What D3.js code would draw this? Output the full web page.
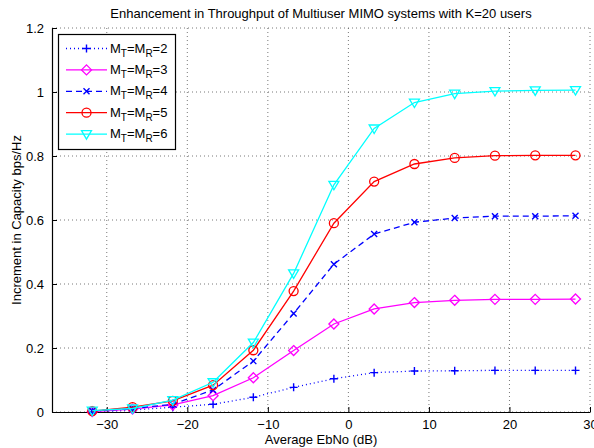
<!DOCTYPE html>
<html>
<head>
<meta charset="utf-8">
<script src="https://cdn.jsdelivr.net/npm/d3@7"></script>
<style>
  body { margin: 0; background: #fff; }
  svg text { font-family: "Liberation Sans", Arial, sans-serif; fill: #000; }
</style>
</head>
<body>
<div id="chart"></div>
<script>
// data
var ebno = [-31.8, -26.8, -21.8, -16.8, -11.8, -6.8, -1.8, 3.2, 8.2, 13.2, 18.2, 23.2, 28.2];
var m2 = [0, 0.006, 0.015, 0.024, 0.046, 0.077, 0.104, 0.123, 0.128, 0.129, 0.130, 0.130, 0.130];
var m3 = [0.001, 0.009, 0.022, 0.051, 0.107, 0.192, 0.275, 0.322, 0.342, 0.349, 0.352, 0.352, 0.353];
var m4 = [0.003, 0.011, 0.024, 0.069, 0.159, 0.308, 0.462, 0.556, 0.593, 0.606, 0.612, 0.612, 0.613];
var m5 = [0.003, 0.015, 0.035, 0.084, 0.193, 0.378, 0.590, 0.720, 0.775, 0.794, 0.801, 0.802, 0.802];
var m6 = [0.004, 0.011, 0.037, 0.093, 0.217, 0.433, 0.710, 0.886, 0.967, 0.995, 1.003, 1.005, 1.006];
var antennas = ["2", "3", "4", "5", "6"];
var xTicks = [-30, -20, -10, 0, 10, 20, 30];
var yTicks = [0, 0.2, 0.4, 0.6, 0.8, 1, 1.2];

var width = 594, height = 448;
var plotLeft = 52, plotRight = 590, plotTop = 28, plotBottom = 412;

var series = [
  { name: antennas[0], values: m2, color: "#0000ff", dash: "1,3", marker: "plus" },
  { name: antennas[1], values: m3, color: "#ff00ff", dash: null, marker: "diamond" },
  { name: antennas[2], values: m4, color: "#0000ff", dash: "6,4", marker: "cross" },
  { name: antennas[3], values: m5, color: "#ff0000", dash: null, marker: "circle" },
  { name: antennas[4], values: m6, color: "#00ffff", dash: null, marker: "tri" }
];

var svg = d3.select("#chart").append("svg")
    .attr("width", width)
    .attr("height", height);

var x = d3.scaleLinear().domain([-36.8, 30]).range([plotLeft, plotRight]);
var y = d3.scaleLinear().domain([0, 1.2]).range([plotBottom, plotTop]);

// grid
var grid = svg.append("g")
    .attr("stroke", "#555")
    .attr("stroke-width", 0.8)
    .attr("stroke-dasharray", "1,3");
grid.selectAll(".gx").data(xTicks).join("line")
    .attr("x1", d => x(d)).attr("x2", d => x(d))
    .attr("y1", plotTop).attr("y2", plotBottom);
grid.selectAll(".gy").data(yTicks).join("line")
    .attr("x1", plotLeft).attr("x2", plotRight)
    .attr("y1", d => y(d)).attr("y2", d => y(d));

// axes (ticks pointing inward)
var xAxis = svg.append("g")
    .attr("transform", "translate(0," + plotBottom + ")")
    .call(d3.axisBottom(x).tickValues(xTicks).tickSizeInner(-5).tickSizeOuter(0).tickPadding(8));
var yAxis = svg.append("g")
    .attr("transform", "translate(" + plotLeft + ",0)")
    .call(d3.axisLeft(y).tickValues(yTicks).tickSizeInner(-5).tickSizeOuter(0).tickPadding(8)
      .tickFormat(d => String(+d.toFixed(1))));
[xAxis, yAxis].forEach(function(a) {
  a.selectAll("text").style("font-size", "13px").attr("fill", "#000");
  a.selectAll("line, path").attr("stroke", "#000");
  a.select(".domain").attr("stroke-width", 1.2);
});

// lines
var line = d3.line()
    .x((d, i) => x(ebno[i]))
    .y(d => y(d));

function drawMarker(g, type, color) {
  if (type === "plus") {
    g.append("path").attr("d", "M-4,0H4M0,-4V4")
      .attr("stroke", color).attr("stroke-width", 1.4).attr("fill", "none");
  } else if (type === "diamond") {
    g.append("path").attr("d", "M0,-5L5,0L0,5L-5,0Z")
      .attr("stroke", color).attr("stroke-width", 1.3).attr("fill", "none");
  } else if (type === "cross") {
    g.append("path").attr("d", "M-3,-3L3,3M-3,3L3,-3")
      .attr("stroke", color).attr("stroke-width", 1.4).attr("fill", "none");
  } else if (type === "circle") {
    g.append("circle").attr("r", 4.5)
      .attr("stroke", color).attr("stroke-width", 1.3).attr("fill", "none");
  } else if (type === "tri") {
    g.append("path").attr("d", "M-5,-3.5L5,-3.5L0,5Z")
      .attr("stroke", color).attr("stroke-width", 1.3).attr("fill", "none");
  }
}

series.forEach(function(s) {
  var g = svg.append("g");
  g.append("path")
    .datum(s.values)
    .attr("d", line)
    .attr("fill", "none")
    .attr("stroke", s.color)
    .attr("stroke-width", 1.3)
    .attr("stroke-dasharray", s.dash);
  g.selectAll(".m").data(s.values).join("g")
    .attr("transform", (d, i) => "translate(" + x(ebno[i]) + "," + y(d) + ")")
    .each(function() { drawMarker(d3.select(this), s.marker, s.color); });
});

// legend
var legend = svg.append("g");
legend.append("rect")
    .attr("x", 58.5).attr("y", 34.5)
    .attr("width", 117).attr("height", 115)
    .attr("fill", "#fff").attr("stroke", "#000").attr("stroke-width", 1.2);
series.forEach(function(s, i) {
  var ry = 48.5 + i * 21.4;
  var row = legend.append("g");
  row.append("line")
    .attr("x1", 66).attr("x2", 107)
    .attr("y1", ry).attr("y2", ry)
    .attr("stroke", s.color).attr("stroke-width", 1.3)
    .attr("stroke-dasharray", s.dash);
  drawMarker(row.append("g").attr("transform", "translate(86.5," + ry + ")"), s.marker, s.color);
  var t = row.append("text")
    .attr("x", 110).attr("y", ry + 4)
    .style("font-size", "13px");
  t.append("tspan").text("M");
  t.append("tspan").attr("dy", 4).style("font-size", "10px").text("T");
  t.append("tspan").attr("dy", -4).text("=M");
  t.append("tspan").attr("dy", 4).style("font-size", "10px").text("R");
  t.append("tspan").attr("dy", -4).text("=" + s.name);
});

// title and labels
svg.append("text")
    .attr("x", (plotLeft + plotRight) / 2).attr("y", 18)
    .attr("text-anchor", "middle")
    .style("font-size", "13px")
    .text("Enhancement in Throughput of Multiuser MIMO systems with K=20 users");
svg.append("text")
    .attr("x", (plotLeft + plotRight) / 2).attr("y", 444)
    .attr("text-anchor", "middle")
    .style("font-size", "13px")
    .text("Average EbNo (dB)");
svg.append("text")
    .attr("transform", "translate(21," + (plotTop + plotBottom) / 2 + ") rotate(-90)")
    .attr("text-anchor", "middle")
    .style("font-size", "13px")
    .text("Increment in Capacity bps/Hz");
</script>
</body>
</html>
